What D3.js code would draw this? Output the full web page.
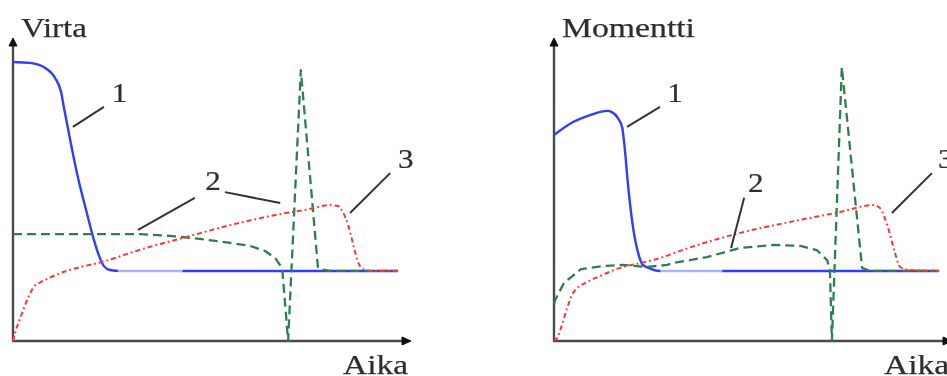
<!DOCTYPE html>
<html>
<head>
<meta charset="utf-8">
<script src="https://cdn.jsdelivr.net/npm/d3@7"></script>
<style>
  html, body { margin: 0; padding: 0; background: #fff; }
  svg { display: block; }
</style>
</head>
<body>
<svg id="chart" width="947" height="376"></svg>
<script>
// ---------- DATA (time 0..100, value 0..100, arbitrary units) ----------
const panelTitles = ["Virta", "Momentti"];
const timeLabel = "Aika";
const curveNames = ["1", "2", "3"];

// Panel 1: Virta (current)
const virtaCurve1 = [[0,92.4],[4.3,92.1],[8.1,90.4],[10.6,87.1],[12.1,82.5],[12.8,77.5],[14.4,66.6],[16.1,55.6],[18.6,42.4],[20.4,33.4],[21.7,28.1],[22.9,24.8],[24.4,23.5],[27,23.2],[97,23.2]];
const virtaCurve2 = [[0,35.4],[32,35.4],[39.5,34.8],[47.1,33.8],[54.7,32.5],[59.7,31.5],[63.5,29.8],[66,27.5],[67.8,24.2],[69.3,0],[72.5,89.7],[76.8,24.5],[77.3,23.8],[79.8,23.2],[97,23.2]];
const virtaCurve3 = [[0,0],[0.6,3],[1.5,6.5],[2.5,10],[3.7,14],[5,17.5],[7,19.5],[9.3,21],[13,23],[16.1,24.2],[21.9,26],[32.7,30.5],[43.8,34.5],[55.4,38.6],[68,42.2],[74.8,43.7],[79.8,45],[81.9,44.7],[83.1,42.7],[84.4,38.4],[85.6,32.5],[86.9,26.2],[88.2,23.8],[90.4,23.2],[97,23.2]];

// Panel 2: Momentti (torque)
const momenttiCurve1 = [[0,68.2],[4.8,72.5],[9.1,74.8],[13.4,76.2],[14.6,75.8],[16.1,73.8],[17.2,70.5],[17.8,64],[18.6,52.3],[19.9,37.7],[21.2,29.1],[22.4,25.2],[24.2,24.0],[26.7,23.2],[97,23.2]];
const momenttiCurve2 = [[0,12.3],[0.3,13.6],[2.5,19.2],[6.8,23.8],[12.3,24.8],[17.1,25.2],[23.4,24.5],[28.5,25.2],[30,25.8],[38.5,27.8],[46.9,30.8],[55.2,31.8],[62,31.5],[66.2,30.1],[68.8,26.8],[69.5,23.5],[70,0],[72.5,90.7],[77.6,24.2],[79.6,23.2],[97,23.2]];
const momenttiCurve3 = [[0,0],[0.8,1],[2,5.3],[3.3,10.9],[4.8,15.9],[8.3,19.5],[11.6,21.5],[16.6,24.2],[21.7,25.8],[27.5,27.8],[31,29.5],[46.9,35.8],[59.4,39.4],[72,42.7],[80.4,45],[82.1,44],[84.1,37.7],[85.9,29.1],[87.2,24.5],[89.7,23.5],[97,23.2]];

// faint (anti-aliased) stretch of curve 1, in time units
const virtaFaint = [26.5, 42.6];
const momenttiFaint = [26.9, 42.3];

// label anchors [name, x, y] and leader lines [x1,y1,x2,y2] in data units
const virtaLabels = [["1",24.9,79.1],["2",48.4,50],["3",97,57.3]];
const virtaLeaders = [[15.1,70.9,22.9,77.5],[31.5,36.8,45.8,47.4],[53.4,49.3,67.3,45.7],[84.9,42.4,95,55.6]];
const momenttiLabels = [["1",28.5,79.1],["2",48.9,49.3],["3",96.7,57.3]];
const momenttiLeaders = [[18.4,70.9,26.7,77.5],[44.6,30.8,47.9,47.4],[85.1,42.4,95.2,55.6]];

// ---------- DRAWING ----------
const svg = d3.select("#chart");
svg.append("rect").attr("width", 947).attr("height", 376).attr("fill", "#fff");

const defs = svg.append("defs");
defs.append("filter").attr("id", "soft")
  .attr("x", "-5%").attr("y", "-5%").attr("width", "110%").attr("height", "110%")
  .append("feGaussianBlur").attr("stdDeviation", 0.45);

const panels = [
  { title: panelTitles[0], curves: [virtaCurve1, virtaCurve2, virtaCurve3], faint: virtaFaint,
    labels: virtaLabels, leaders: virtaLeaders, originX: 13, titleLen: 66 },
  { title: panelTitles[1], curves: [momenttiCurve1, momenttiCurve2, momenttiCurve3], faint: momenttiFaint,
    labels: momenttiLabels, leaders: momenttiLeaders, originX: 554, titleLen: 133 }
];

const plotW = 397, originY = 341, topY = 39;
const serif = "'Liberation Serif', 'DejaVu Serif', serif";

const styles = [
  { color: "#2f3cff", width: 2.4, dash: null },
  { color: "#2e7f4e", width: 2.3, dash: "9,5" },
  { color: "#ff3535", width: 2.0, dash: "5,3,1.8,3" }
];

panels.forEach((p, pi) => {
  const x = d3.scaleLinear().domain([0, 100]).range([p.originX, p.originX + plotW]);
  const y = d3.scaleLinear().domain([0, 100]).range([originY, topY]);
  const g = svg.append("g").attr("filter", "url(#soft)");

  // gradient for curve 1 (faint stretch)
  const gid = "grad" + pi;
  const grad = defs.append("linearGradient").attr("id", gid)
    .attr("gradientUnits", "userSpaceOnUse")
    .attr("x1", x(0)).attr("x2", x(100)).attr("y1", 0).attr("y2", 0);
  const f0 = p.faint[0] / 100, f1 = p.faint[1] / 100;
  [[0, "#2f3cff"], [f0 - 0.002, "#2f3cff"], [f0, "#aab2ff"], [f1, "#aab2ff"], [f1 + 0.002, "#2f3cff"], [1, "#2f3cff"]]
    .forEach(([o, c]) => grad.append("stop").attr("offset", o).attr("stop-color", c));

  // axes
  const axisColor = "#4a4a4a";
  g.append("line").attr("x1", x(0)).attr("y1", y(0)).attr("x2", x(0)).attr("y2", y(100) + 5)
    .attr("stroke", axisColor).attr("stroke-width", 2.4);
  g.append("line").attr("x1", x(0) - 1).attr("y1", y(0)).attr("x2", x(100) - 5).attr("y2", y(0))
    .attr("stroke", axisColor).attr("stroke-width", 2.4);
  // arrowheads
  g.append("path")
    .attr("d", `M${x(0)},${y(100) - 1} L${x(0) + 4},${y(100) + 7} L${x(0) - 4},${y(100) + 7} Z`)
    .attr("fill", "#111").attr("stroke", "#111").attr("stroke-width", 1).attr("stroke-linejoin", "round");
  g.append("path")
    .attr("d", `M${x(100) + 1},${y(0)} L${x(100) - 8},${y(0) - 4} L${x(100) - 8},${y(0) + 4} Z`)
    .attr("fill", "#111").attr("stroke", "#111").attr("stroke-width", 1).attr("stroke-linejoin", "round");

  // curves
  const smooth = d3.line().x(d => x(d[0])).y(d => y(d[1])).curve(d3.curveMonotoneX);
  const straight = d3.line().x(d => x(d[0])).y(d => y(d[1])).curve(d3.curveLinear);
  p.curves.forEach((c, ci) => {
    const s = styles[ci];
    g.append("path").datum(c)
      .attr("d", ci === 1 ? straight : smooth)
      .attr("fill", "none")
      .attr("stroke", ci === 0 ? `url(#${gid})` : s.color)
      .attr("stroke-width", s.width)
      .attr("stroke-dasharray", s.dash)
      .attr("stroke-linejoin", "round");
  });

  // leader lines
  p.leaders.forEach(l => {
    g.append("line").attr("x1", x(l[0])).attr("y1", y(l[1])).attr("x2", x(l[2])).attr("y2", y(l[3]))
      .attr("stroke", "#333").attr("stroke-width", 2);
  });

  const textStyle = sel => sel.attr("font-family", serif).attr("fill", "#2e2e2e")
    .attr("stroke", "#2e2e2e").attr("stroke-width", 0.25);

  // curve labels
  p.labels.forEach(l => {
    g.append("text").attr("x", x(l[1])).attr("y", y(l[2]))
      .attr("font-size", 27).call(textStyle)
      .attr("transform", `translate(${x(l[1])},0) scale(1.15,1) translate(${-x(l[1])},0)`)
      .text(l[0]);
  });

  // title and time label
  g.append("text").attr("x", x(0) + 8).attr("y", 37)
    .attr("font-size", 28).call(textStyle)
    .attr("textLength", p.titleLen).attr("lengthAdjust", "spacingAndGlyphs")
    .text(p.title);
  g.append("text").attr("x", x(0) + 330).attr("y", 374)
    .attr("font-size", 28).call(textStyle)
    .attr("textLength", 65).attr("lengthAdjust", "spacingAndGlyphs")
    .text(timeLabel);
});
</script>
</body>
</html>
